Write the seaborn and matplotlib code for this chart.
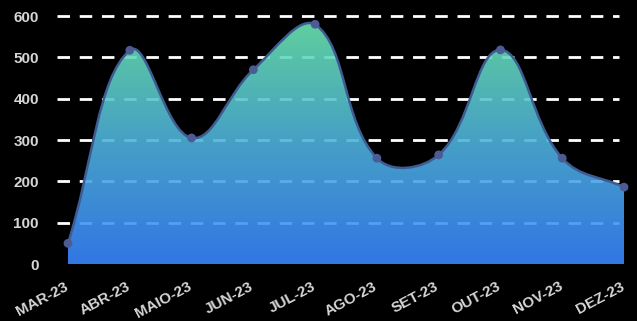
import numpy as np
import pandas as pd
import matplotlib
matplotlib.use("Agg")
import matplotlib.pyplot as plt
import matplotlib.transforms as mtransforms
from matplotlib.colors import LinearSegmentedColormap
from matplotlib.patches import PathPatch
from matplotlib.path import Path
import seaborn as sns

months = ["MAR-23", "ABR-23", "MAIO-23", "JUN-23", "JUL-23",
          "AGO-23", "SET-23", "OUT-23", "NOV-23", "DEZ-23"]
values = [50, 517, 305, 470, 580, 256, 264, 518, 256, 186]
y_ticks = [0, 100, 200, 300, 400, 500, 600]

sns.set_theme(style="dark")
plt.rcParams["font.family"] = ["Liberation Sans", "DejaVu Sans"]

df = pd.DataFrame({"idx": np.arange(len(months)), "mes": months, "valor": values})

fig = plt.figure(figsize=(6.37, 3.21), dpi=100, facecolor="black")
ax = fig.add_axes([57 / 637, 57 / 321, 568 / 637, 248 / 321])
ax.set_facecolor("black")

step_px = 61.78
x_left = -11 / step_px
x_right = 557 / step_px
grid_end = 551 / step_px
ax.set_xlim(x_left, x_right)
ax.set_ylim(0, 600)


def spline_path(x, y, tension=0.4):
    """Bezier spline whose control points follow the neighbour distances
    measured on screen (distance-weighted cardinal spline)."""
    pts = np.column_stack([x, y]).astype(float)
    disp = ax.transData.transform(pts)
    n = len(pts)
    ctrl_prev = np.zeros_like(pts)
    ctrl_next = np.zeros_like(pts)
    for i in range(n):
        p0 = pts[max(i - 1, 0)]
        p2 = pts[min(i + 1, n - 1)]
        d01 = np.hypot(*(disp[i] - disp[max(i - 1, 0)]))
        d12 = np.hypot(*(disp[min(i + 1, n - 1)] - disp[i]))
        tot = d01 + d12
        s01 = d01 / tot if tot else 0.0
        s12 = d12 / tot if tot else 0.0
        ctrl_prev[i] = pts[i] - tension * s01 * (p2 - p0)
        ctrl_next[i] = pts[i] + tension * s12 * (p2 - p0)
    # keep control points inside the value range of the axes
    ctrl_prev[:, 1] = np.clip(ctrl_prev[:, 1], 0, 600)
    ctrl_next[:, 1] = np.clip(ctrl_next[:, 1], 0, 600)
    verts = [pts[0]]
    codes = [Path.MOVETO]
    for i in range(n - 1):
        verts += [ctrl_next[i], ctrl_prev[i + 1], pts[i + 1]]
        codes += [Path.CURVE4] * 3
    return verts, codes


verts, codes = spline_path(df["idx"], df["valor"])
curve = Path(verts, codes)
area_path = Path(verts + [(df["idx"].iloc[-1], 0), (df["idx"].iloc[0], 0), verts[0]],
                 codes + [Path.LINETO, Path.LINETO, Path.CLOSEPOLY])

# dashed horizontal grid
for v in y_ticks[1:]:
    ax.plot([x_left, grid_end], [v, v], color="white", lw=2,
            dashes=(4.5, 3.5), zorder=1, clip_on=False, solid_capstyle="butt")

# gradient area under the curve
area = PathPatch(area_path, facecolor="none", edgecolor="none", transform=ax.transData)
ax.add_patch(area)
area.set_clip_on(False)
cmap = LinearSegmentedColormap.from_list("area", ["#3985ff", "#4eb2de", "#6ae6b2"])
grad = np.linspace(0, 1, 256).reshape(-1, 1)
img = ax.imshow(grad, cmap=cmap, origin="lower", aspect="auto",
                extent=(0, len(months) - 1, 0, max(values)),
                zorder=2, alpha=0.9)
img.set_clip_path(area)

# outline and markers
line = PathPatch(curve, facecolor="none", edgecolor="#3f5c92", lw=1.8,
                 zorder=3, transform=ax.transData)
line.set_clip_on(False)
ax.add_patch(line)
sns.scatterplot(data=df, x="idx", y="valor", ax=ax, s=40, color="#4d5b95",
                edgecolor="none", zorder=4, clip_on=False, legend=False)

ax.set_xlim(x_left, x_right)
ax.set_ylim(0, 600)
ax.set_xticks(df["idx"])
ax.set_xticklabels(months, rotation=28, ha="right", rotation_mode="anchor")
ax.set_yticks(y_ticks)
ax.set_yticklabels([str(v) for v in y_ticks])
ax.tick_params(axis="both", length=0, colors="#d6d6d6", labelsize=11)
ax.tick_params(axis="x", pad=11)
ax.tick_params(axis="y", pad=13)
shift = mtransforms.ScaledTranslation(-4 / 100, 0, fig.dpi_scale_trans)
for lab in ax.get_xticklabels():
    lab.set_fontweight("bold")
    lab.set_transform(lab.get_transform() + shift)
for lab in ax.get_yticklabels():
    lab.set_fontweight("bold")
ax.set_xlabel("")
ax.set_ylabel("")
ax.grid(False)
for s in ax.spines.values():
    s.set_visible(False)

fig.savefig("out.png", dpi=100, facecolor="black")
